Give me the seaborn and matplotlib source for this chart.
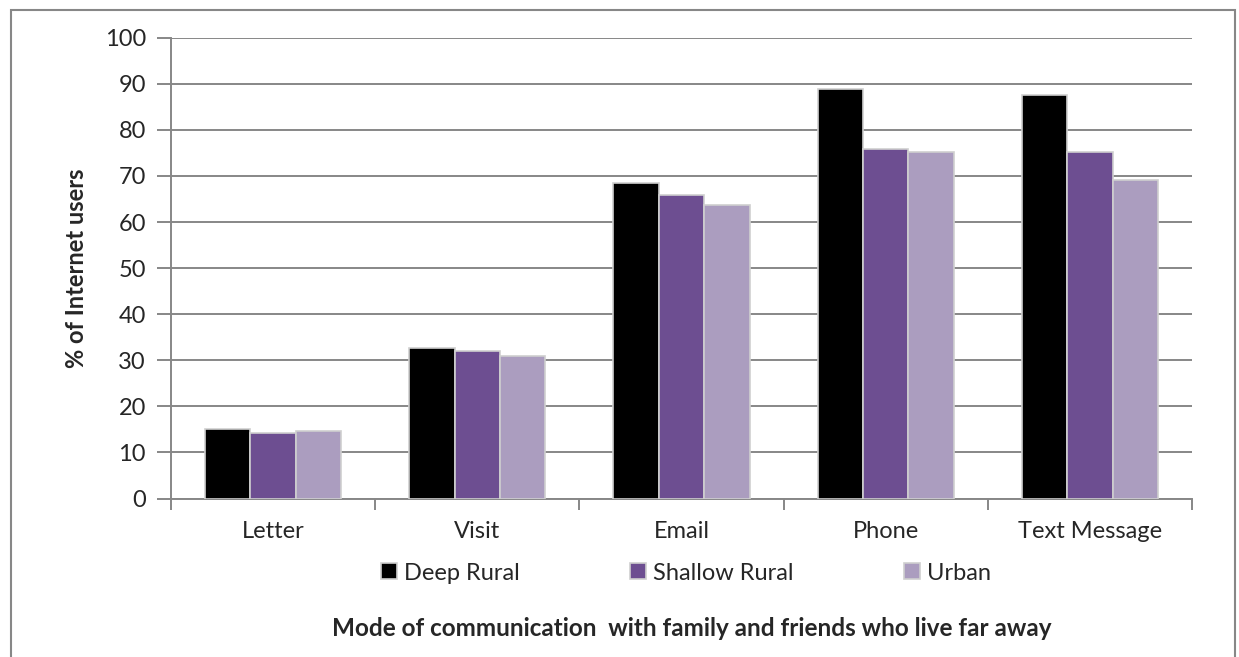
import numpy as np
import pandas as pd
import matplotlib
matplotlib.use("Agg")
import matplotlib.pyplot as plt
import seaborn as sns
from matplotlib.patches import Rectangle

# ── data ────────────────────────────────────────────────────
modes = ["Letter", "Visit", "Email", "Phone", "Text Message"]
areas = ["Deep Rural", "Shallow Rural", "Urban"]
deep_rural = [15.0, 32.6, 68.5, 88.8, 87.5]
shallow_rural = [14.3, 32.1, 65.8, 75.9, 75.1]
urban = [14.7, 30.9, 63.6, 75.1, 69.2]

colors = ["#000000", "#6d4e91", "#ab9dbf"]
grey = "#878787"

df = pd.DataFrame({
    "mode": modes * 3,
    "area": np.repeat(areas, len(modes)),
    "pct": deep_rural + shallow_rural + urban,
})

sns.set_theme(style="white")
plt.rcParams["font.family"] = ["Lato", "DejaVu Sans"]

fig = plt.figure(figsize=(12.39, 6.57), dpi=100)
ax = fig.add_axes([171 / 1239, 1 - 498.5 / 657, (1192 - 171) / 1239, (498.5 - 37.7) / 657])

sns.barplot(data=df, x="mode", y="pct", hue="area", order=modes, hue_order=areas,
            palette=colors, width=0.667, edgecolor="#cfcfcf", linewidth=1.2,
            saturation=1, ax=ax, zorder=3)

# axes, grid, ticks
ax.set_ylim(0, 100)
ax.set_xlim(-0.5, len(modes) - 0.5)
ax.set_yticks(range(0, 101, 10))
ax.yaxis.grid(True, color=grey, linewidth=1.4, zorder=0)
ax.set_axisbelow(True)
for s in ["top", "right"]:
    ax.spines[s].set_visible(False)
for s in ["left", "bottom"]:
    ax.spines[s].set_color(grey)
    ax.spines[s].set_linewidth(1.4)
ax.tick_params(axis="y", length=10, width=1.4, color=grey, labelsize=17, pad=8,
               left=True, direction="out")
ax.tick_params(axis="x", which="major", length=0, labelsize=17, pad=16)
ax.set_xticks(np.arange(-0.5, len(modes)), minor=True)
ax.tick_params(axis="x", which="minor", length=8, width=1.4, color=grey,
               bottom=True, direction="out")

ax.set_xlabel("")
ax.set_ylabel("% of Internet users", fontsize=17, fontweight="bold", labelpad=12)

# legend below the categories
ax.legend_.remove()
handles, labels = ax.get_legend_handles_labels()
fig.legend(handles, labels, loc="center", bbox_to_anchor=(686 / 1239, 1 - 573 / 657),
           ncol=3, frameon=False, fontsize=17, handlelength=0.65, handleheight=0.65,
           handletextpad=0.3, columnspacing=4.7, borderpad=0)

fig.text(692 / 1239, 1 - 628 / 657, "Mode of communication  with family and friends who live far away",
         ha="center", va="center", fontsize=17.5, fontweight="bold")

# outer chart border
fig.patches.append(Rectangle((11 / 1239, -0.02), (1235 - 11) / 1239, 1.02 - 10 / 657,
                             transform=fig.transFigure, fill=False, edgecolor=grey,
                             linewidth=1.5, clip_on=False))

fig.savefig("out.png", dpi=100)
